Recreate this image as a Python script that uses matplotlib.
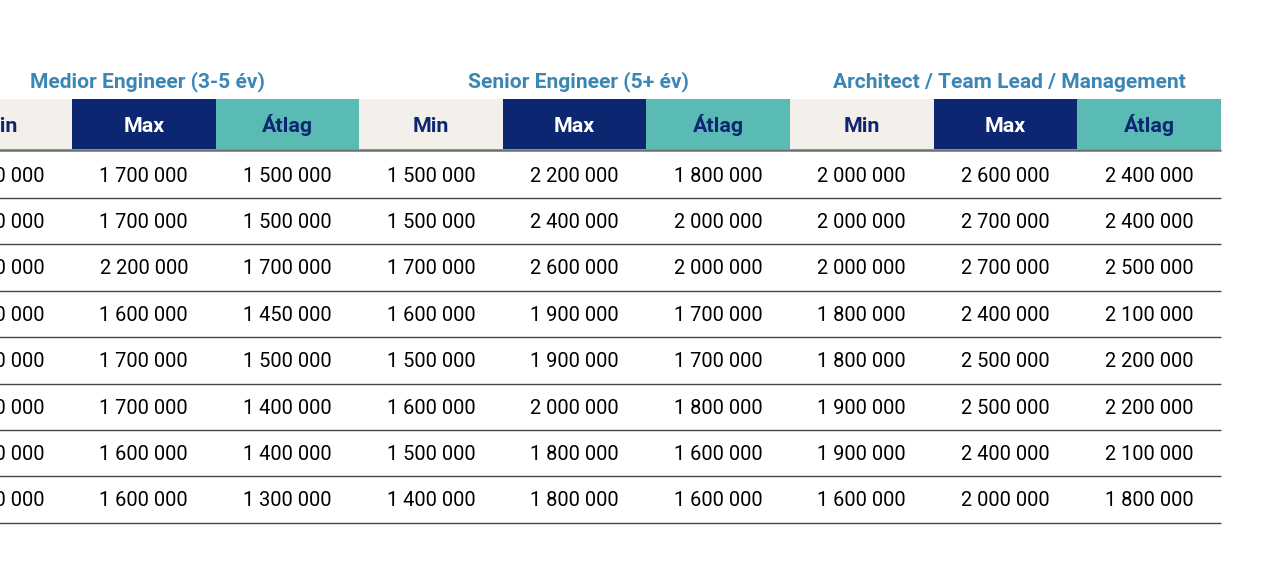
import matplotlib.pyplot as plt
from matplotlib.patches import Rectangle

plt.rcParams['font.family'] = ['Roboto', 'DejaVu Sans']

# group headers and sub-columns
groups = ['Medior Engineer (3-5 év)', 'Senior Engineer (5+ év)', 'Architect / Team Lead / Management']
subcols = ['Min', 'Max', 'Átlag']

# values per group (Min, Max, Átlag), one entry per row
medior_min = ['1 300 000', '1 300 000', '1 400 000', '1 300 000', '1 300 000', '1 200 000', '1 200 000', '1 100 000']
medior_max = ['1 700 000', '1 700 000', '2 200 000', '1 600 000', '1 700 000', '1 700 000', '1 600 000', '1 600 000']
medior_avg = ['1 500 000', '1 500 000', '1 700 000', '1 450 000', '1 500 000', '1 400 000', '1 400 000', '1 300 000']
senior_min = ['1 500 000', '1 500 000', '1 700 000', '1 600 000', '1 500 000', '1 600 000', '1 500 000', '1 400 000']
senior_max = ['2 200 000', '2 400 000', '2 600 000', '1 900 000', '1 900 000', '2 000 000', '1 800 000', '1 800 000']
senior_avg = ['1 800 000', '2 000 000', '2 000 000', '1 700 000', '1 700 000', '1 800 000', '1 600 000', '1 600 000']
arch_min = ['2 000 000', '2 000 000', '2 000 000', '1 800 000', '1 800 000', '1 900 000', '1 900 000', '1 600 000']
arch_max = ['2 600 000', '2 700 000', '2 700 000', '2 400 000', '2 500 000', '2 500 000', '2 400 000', '2 000 000']
arch_avg = ['2 400 000', '2 400 000', '2 500 000', '2 100 000', '2 200 000', '2 200 000', '2 100 000', '1 800 000']

columns = [medior_min, medior_max, medior_avg,
           senior_min, senior_max, senior_avg,
           arch_min, arch_max, arch_avg]

head_bg = {'Min': '#f3f0eb', 'Max': '#0d2672', 'Átlag': '#5abbb5'}
head_fg = {'Min': '#0d2672', 'Max': 'white', 'Átlag': '#0d2672'}
title_color = '#3a86b4'

# layout in pixels (the table is cut off on the left, like the source)
left = -71.6
col_w = 143.6
head_top, head_bot = 98.5, 149
row_top = 151.5
row_h = 46.4

fig = plt.figure(figsize=(12.86, 5.68), dpi=100)
ax = fig.add_axes([0, 0, 1, 1])
ax.set_xlim(0, 1286)
ax.set_ylim(568, 0)
ax.axis('off')

n_rows = len(medior_max)
right = left + col_w * len(columns)

for g, name in enumerate(groups):
    cx = left + col_w * (3 * g + 1.5) + 4
    ax.text(cx, 87.7, name, ha='center', va='baseline', fontsize=15.1,
            fontweight='bold', color=title_color)

for c in range(len(columns)):
    sub = subcols[c % 3]
    x0 = left + c * col_w
    ax.add_patch(Rectangle((x0, head_top), col_w, head_bot - head_top,
                           facecolor=head_bg[sub], edgecolor='none'))
    ax.text(x0 + col_w / 2, 132.5, sub, ha='center', va='baseline',
            fontsize=15.4, fontweight='bold', color=head_fg[sub])
    for r, val in enumerate(columns[c]):
        ax.text(x0 + col_w / 2, 181.7 + row_h * r, val,
                ha='center', va='baseline', fontsize=14.4, color='black')

ax.plot([left, right], [head_bot + 1, head_bot + 1], color='#6e6e6e', lw=1.8,
        solid_capstyle='butt')
for r in range(1, n_rows + 1):
    y = row_top + row_h * r
    ax.plot([left, right], [y, y], color='#444444', lw=1.0, solid_capstyle='butt')

fig.savefig('out.png', dpi=100, facecolor='white')
